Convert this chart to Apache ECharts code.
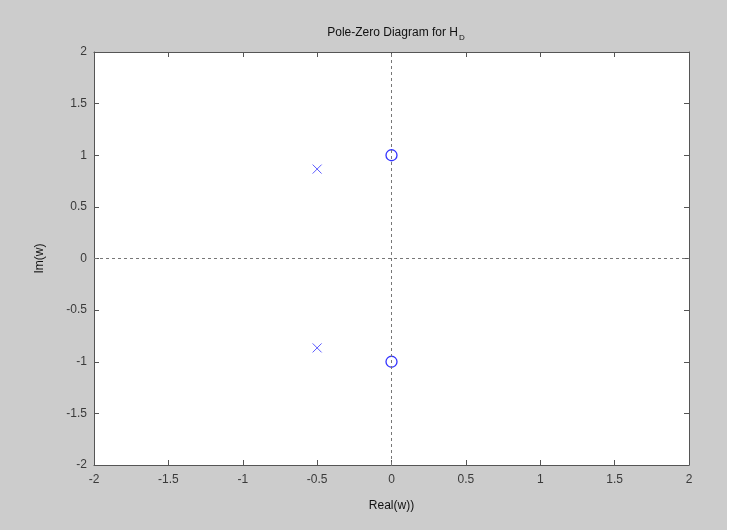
<!DOCTYPE html>
<html>
<head>
<meta charset="utf-8">
<script src="https://cdn.jsdelivr.net/npm/echarts@6/dist/echarts.min.js"></script>
<style>
  html, body { margin: 0; padding: 0; background: #ffffff; }
  #main { width: 727px; height: 530px; }
</style>
</head>
<body>
<div id="main"></div>
<script>
// poles (x) and zeros (o) of H_D
var poles = [[-0.5, 0.866], [-0.5, -0.866]];
var zeros = [[0, 1], [0, -1]];

var myChart = echarts.init(document.getElementById('main'));
var txt = '#3a3a3a';
var axLine = { onZero: false, lineStyle: { color: '#555555', width: 1 } };
var inTick = { show: true, inside: true, length: 5, lineStyle: { color: '#555555' } };

var option = {
  backgroundColor: '#cccccc',
  animation: false,
  textStyle: { fontFamily: 'Liberation Sans, Arial, sans-serif' },
  title: {
    text: '{m|Pole-Zero Diagram for H}{s|D}',
    left: 391,
    top: 19,
    textAlign: 'center',
    textStyle: {
      fontWeight: 'normal',
      rich: {
        m: { fontSize: 12, color: '#111111', fontWeight: 'normal', fontFamily: 'Liberation Sans' },
        s: { fontSize: 8, color: '#111111', fontWeight: 'normal', fontFamily: 'Liberation Sans', padding: [10, 0, 0, 1] }
      }
    }
  },
  grid: { left: 94, right: 38, top: 52, bottom: 65, show: true, backgroundColor: '#ffffff', borderWidth: 0 },
  xAxis: [
    {
      type: 'value', min: -2, max: 2, interval: 0.5, position: 'bottom',
      axisLine: axLine, axisTick: inTick, splitLine: { show: false },
      axisLabel: { color: txt, fontSize: 12, margin: 9 },
      name: 'Real(w))', nameLocation: 'middle', nameGap: 35,
      nameTextStyle: { color: '#111111', fontSize: 12 }
    },
    {
      type: 'value', min: -2, max: 2, interval: 0.5, position: 'top',
      axisLine: axLine, axisTick: inTick, splitLine: { show: false },
      axisLabel: { show: false }
    }
  ],
  yAxis: [
    {
      type: 'value', min: -2, max: 2, interval: 0.5, position: 'left',
      axisLine: axLine, axisTick: inTick, splitLine: { show: false },
      axisLabel: { color: txt, fontSize: 12, margin: 7 },
      name: 'Im(w)', nameLocation: 'middle', nameGap: 48, nameRotate: 90,
      nameTextStyle: { color: '#111111', fontSize: 12 }
    },
    {
      type: 'value', min: -2, max: 2, interval: 0.5, position: 'right',
      axisLine: axLine, axisTick: inTick, splitLine: { show: false },
      axisLabel: { show: false }
    }
  ],
  series: [
    {
      name: 'Poles', type: 'scatter', data: poles,
      symbol: 'path://M0,0L10,10M10,0L0,10', symbolSize: 9,
      itemStyle: { color: 'none', borderColor: '#3333ff', borderWidth: 1 },
      markLine: {
        silent: true, symbol: 'none', label: { show: false },
        lineStyle: { color: '#777777', type: [3, 3], width: 1 },
        data: [{ xAxis: 0 }, { yAxis: 0 }]
      }
    },
    {
      name: 'Zeros', type: 'scatter', data: zeros,
      symbol: 'circle', symbolSize: 11,
      itemStyle: { color: 'none', borderColor: '#0000ff', borderWidth: 1.3 }
    }
  ]
};

myChart.setOption(option);
</script>
</body>
</html>
